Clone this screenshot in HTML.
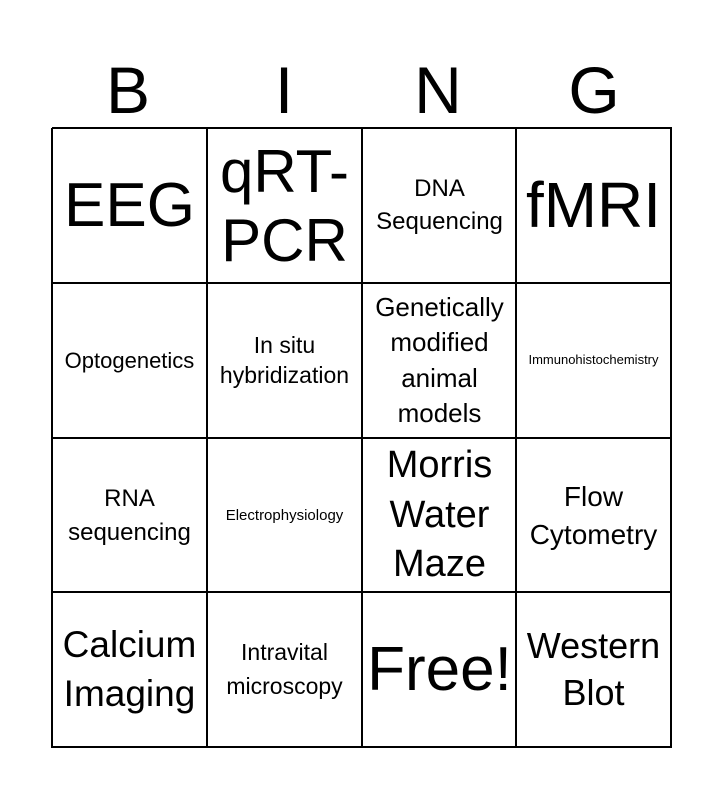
<!DOCTYPE html>
<html><head><style>
body{margin:0;width:723px;height:800px;background:#fff;font-family:"Liberation Sans",Arial,sans-serif;position:relative;overflow:hidden}
.h{position:absolute;top:52px;font-size:66px;width:100px;text-align:center;line-height:76px}
.c{position:absolute;display:flex;align-items:center;justify-content:center;text-align:center;width:155px;height:155px;line-height:1.15}
.v{position:absolute;top:128px;width:2px;height:620px;background:#000}
.r{position:absolute;left:52px;width:620px;height:2px;background:#000}
</style></head><body>
<div class="h" style="left:78px">B</div>
<div class="h" style="left:234px">I</div>
<div class="h" style="left:388px">N</div>
<div class="h" style="left:544px">G</div>
<div class="v" style="left:51px"></div><div class="v" style="left:206px"></div><div class="v" style="left:361px"></div><div class="v" style="left:515px"></div><div class="v" style="left:670px"></div>
<div class="r" style="top:127px"></div><div class="r" style="top:282px"></div><div class="r" style="top:437px"></div><div class="r" style="top:591px"></div><div class="r" style="top:746px"></div>

<div class="c" style="left:52px;top:128px;font-size:62px">EEG</div>
<div class="c" style="left:207px;top:128px;font-size:60px;line-height:1.15">qRT-<br>PCR</div>
<div class="c" style="left:362px;top:128px;font-size:24px;line-height:1.35">DNA<br>Sequencing</div>
<div class="c" style="left:516px;top:128px;font-size:64px">fMRI</div>
<div class="c" style="left:52px;top:283px;font-size:22px">Optogenetics</div>
<div class="c" style="left:207px;top:283px;font-size:23px;line-height:1.3">In situ<br>hybridization</div>
<div class="c" style="left:362px;top:283px;font-size:26px;line-height:1.35">Genetically<br>modified<br>animal<br>models</div>
<div class="c" style="left:516px;top:283px;font-size:13px">Immunohistochemistry</div>
<div class="c" style="left:52px;top:438px;font-size:24px;line-height:1.4">RNA<br>sequencing</div>
<div class="c" style="left:207px;top:438px;font-size:15px">Electrophysiology</div>
<div class="c" style="left:362px;top:438px;font-size:38px;line-height:1.3">Morris<br>Water<br>Maze</div>
<div class="c" style="left:516px;top:438px;font-size:28px;line-height:1.35">Flow<br>Cytometry</div>
<div class="c" style="left:52px;top:592px;font-size:37px;line-height:1.3">Calcium<br>Imaging</div>
<div class="c" style="left:207px;top:592px;font-size:23px;line-height:1.45">Intravital<br>microscopy</div>
<div class="c" style="left:362px;top:592px;font-size:62px">Free!</div>
<div class="c" style="left:516px;top:592px;font-size:36px;line-height:1.3">Western<br>Blot</div>
</body></html>
